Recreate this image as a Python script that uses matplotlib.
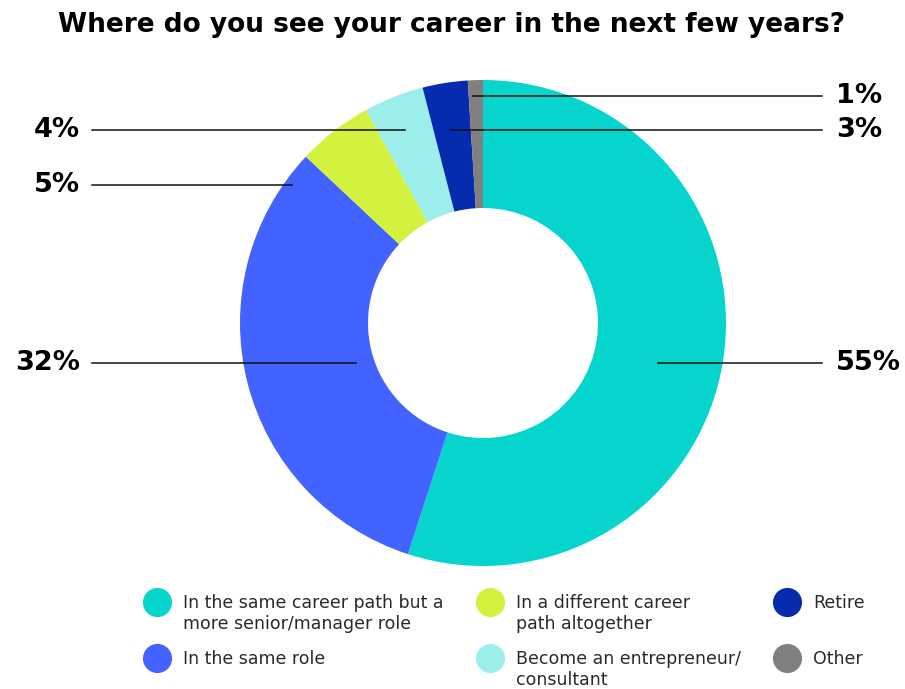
import matplotlib
matplotlib.use("Agg")
import matplotlib.pyplot as plt

# Survey answers and their shares (%)
answers = [
    "In the same career path but a\nmore senior/manager role",
    "In the same role",
    "In a different career\npath altogether",
    "Become an entrepreneur/\nconsultant",
    "Retire",
    "Other",
]
shares = [55, 32, 5, 4, 3, 1]
colors = ["#05D5CD", "#4263FF", "#D3F240", "#9CEEEB", "#062BAF", "#808080"]

# label placement in pixel space: side, text y, leader anchor
label_side = ["right", "left", "left", "left", "right", "right"]
label_y = [363, 363, 185, 130, 130, 96]
anchor_x = [658, 356, 292, 405, 451, 473]

# legend grid order: (column, row) for each answer
legend_col = [0, 0, 1, 1, 2, 2]
legend_row = [0, 1, 0, 1, 0, 1]
col_x = [157, 490, 787]
row_y = [602, 658]

W, H = 905, 689
fig = plt.figure(figsize=(W / 100, H / 100), dpi=100)
ax = fig.add_axes([0, 0, 1, 1])

cx, cy, r_out, r_in = 483, 323, 243, 115
ax.pie(shares, colors=colors, startangle=-90, counterclock=True,
       center=(cx, cy), radius=r_out,
       wedgeprops=dict(width=r_out - r_in, linewidth=0))

ax.set_xlim(0, W)
ax.set_ylim(H, 0)
ax.set_aspect("equal")
ax.axis("off")

bold = dict(family="DejaVu Sans", weight="bold")

for s, side, y, ax_x in zip(shares, label_side, label_y, anchor_x):
    if side == "left":
        ax.plot([92, ax_x], [y, y], color="#111111", lw=1.1, zorder=3)
        ax.text(80, y, f"{s}%", ha="right", va="center", fontsize=19.5, **bold)
    else:
        ax.plot([ax_x, 822], [y, y], color="#111111", lw=1.1, zorder=3)
        ax.text(836, y, f"{s}%", ha="left", va="center", fontsize=19.5, **bold)

ax.text(452, 25, "Where do you see your career in the next few years?",
        ha="center", va="center", fontsize=19, **bold)

# legend drawn as dots with wrapped labels, one text per line
for name, c, col, row in zip(answers, colors, legend_col, legend_row):
    x, y = col_x[col], row_y[row]
    ax.scatter([x], [y], s=440, color=c, linewidths=0, zorder=3)
    for i, line in enumerate(name.split("\n")):
        ax.text(x + 26, y + 6 + 21 * i, line, ha="left", va="baseline",
                fontsize=12.5, family="DejaVu Sans", color="#2a2a2a")

fig.savefig("out.png", dpi=100)
